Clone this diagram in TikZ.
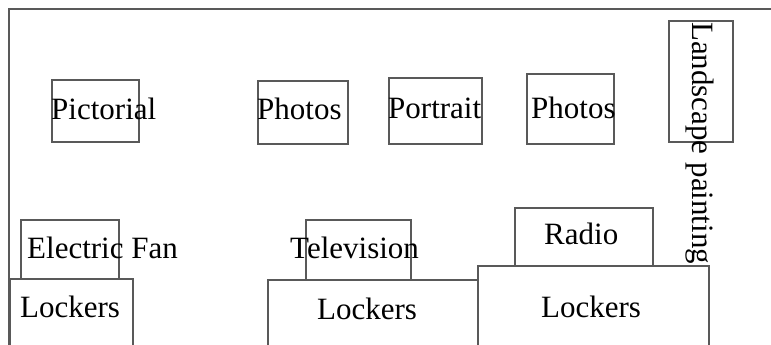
\documentclass[tikz,border=0pt]{standalone}
\usepackage{fontspec}
\setmainfont{Liberation Serif}
\definecolor{wall}{HTML}{595959}
\begin{document}
\begin{tikzpicture}
  [x=1pt,y=-1pt,
   box/.style={draw=wall,line width=1.8pt,rectangle,inner sep=0pt,anchor=north west},
   tag/.style={inner sep=0pt,anchor=base west,font=\fontsize{31}{36}\selectfont}]
  \useasboundingbox (0,0) rectangle (771,345);
  \clip (0,0) rectangle (771,345);
  % walls of the room
  \draw[wall,line width=1.8pt] (9,350) -- (9,9) -- (775,9);

  % furniture and pictures
  \foreach \name/\x/\y/\w/\h in {pict/51/79/87/62, photosA/257/80/90/63,
      portrait/388/77/93/66, photosB/526/73/87/70, landscape/668/20/64/121,
      fan/20/219/98/59, tv/305/219/105/60, radio/514/207/138/58,
      lockA/9/278/123/82, lockB/267/279/210/81, lockC/477/265/231/95}
    \node[box,minimum width=\w pt,minimum height=\h pt] (\name) at (\x,\y) {};

  % labels
  \foreach \name/\x/\y/\txt in {tpict/51/119/Pictorial, tphotosA/257/119/Photos,
      tportrait/388/118/Portrait, tphotosB/531/118/Photos,
      tfan/27/258/Electric Fan, ttv/290/258/Television, tradio/544/244/Radio,
      tlockA/20/317/Lockers, tlockB/317/319/Lockers, tlockC/541/317/Lockers}
    \node[tag] (\name) at (\x,\y) {\txt};
  \node[tag,rotate=-90] (tlandscape) at (692,22) {Landscape painting};
\end{tikzpicture}
\end{document}
